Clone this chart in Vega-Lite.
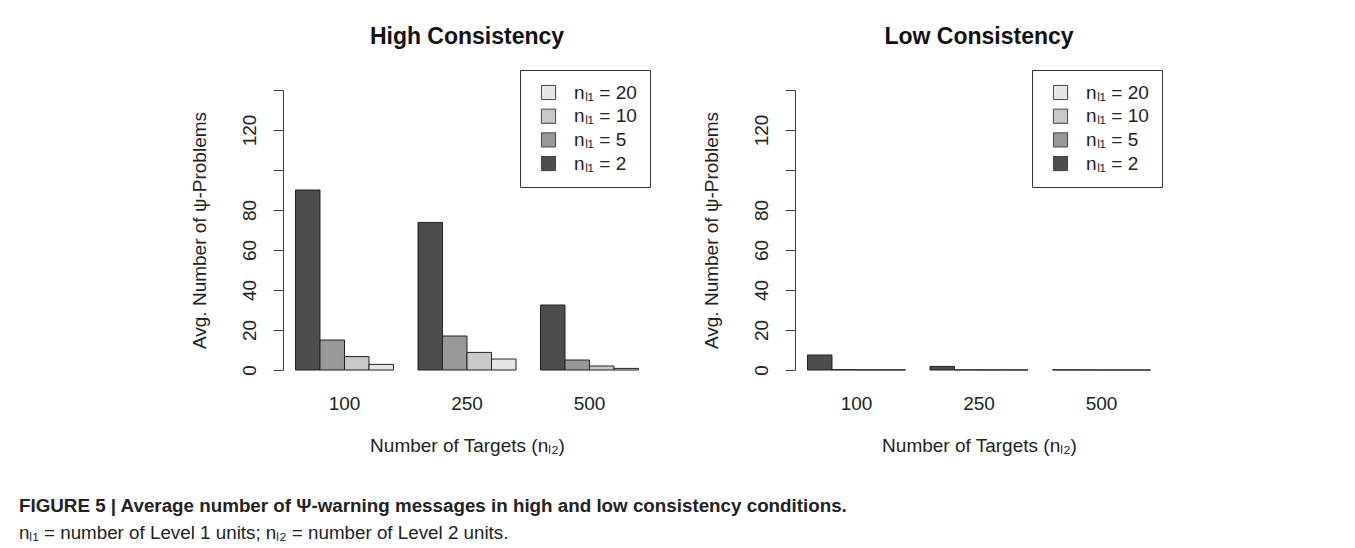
{
  "$schema": "https://vega.github.io/schema/vega-lite/v6.json",
  "padding": {"left": 19, "top": 25, "right": 0, "bottom": 0},
  "background": "white",
  "config": {
    "font": "Liberation Sans",
    "view": {"stroke": null},
    "axis": {"labelColor": "#222", "titleColor": "#222", "domainColor": "#444", "tickColor": "#444", "grid": false}
  },
  "title": {
    "text": "FIGURE 5 | Average number of Ψ-warning messages in high and low consistency conditions.",
    "subtitle": "nₗ₁ = number of Level 1 units; nₗ₂ = number of Level 2 units.",
    "orient": "bottom",
    "anchor": "start",
    "frame": "bounds",
    "dx": -171,
    "offset": 42,
    "fontSize": 18.8,
    "fontWeight": "bold",
    "color": "#222",
    "subtitleFontSize": 18.8,
    "subtitleFontWeight": "normal",
    "subtitleColor": "#222",
    "subtitlePadding": 8
  },
  "data": {
    "values": [
      {"panel": "High", "targets": "100", "n": "2", "value": 90},
      {"panel": "High", "targets": "100", "n": "5", "value": 15},
      {"panel": "High", "targets": "100", "n": "10", "value": 6.7},
      {"panel": "High", "targets": "100", "n": "20", "value": 2.8},
      {"panel": "High", "targets": "250", "n": "2", "value": 73.8},
      {"panel": "High", "targets": "250", "n": "5", "value": 17},
      {"panel": "High", "targets": "250", "n": "10", "value": 8.8},
      {"panel": "High", "targets": "250", "n": "20", "value": 5.5},
      {"panel": "High", "targets": "500", "n": "2", "value": 32.5},
      {"panel": "High", "targets": "500", "n": "5", "value": 5},
      {"panel": "High", "targets": "500", "n": "10", "value": 2},
      {"panel": "High", "targets": "500", "n": "20", "value": 0.8},
      {"panel": "Low", "targets": "100", "n": "2", "value": 7.5},
      {"panel": "Low", "targets": "100", "n": "5", "value": 0.2},
      {"panel": "Low", "targets": "100", "n": "10", "value": 0.1},
      {"panel": "Low", "targets": "100", "n": "20", "value": 0.1},
      {"panel": "Low", "targets": "250", "n": "2", "value": 1.8},
      {"panel": "Low", "targets": "250", "n": "5", "value": 0.1},
      {"panel": "Low", "targets": "250", "n": "10", "value": 0.05},
      {"panel": "Low", "targets": "250", "n": "20", "value": 0.05},
      {"panel": "Low", "targets": "500", "n": "2", "value": 0.1},
      {"panel": "Low", "targets": "500", "n": "5", "value": 0.05},
      {"panel": "Low", "targets": "500", "n": "10", "value": 0.02},
      {"panel": "Low", "targets": "500", "n": "20", "value": 0.02}
    ]
  },
  "spacing": 51,
  "resolve": {"scale": {"color": "independent", "x": "independent", "y": "independent", "xOffset": "independent"}, "legend": {"color": "independent"}},
  "hconcat": [
    {
      "title": {"text": "High Consistency", "fontSize": 23, "fontWeight": "bold", "frame": "group", "anchor": "middle", "offset": 21, "color": "#111"},
      "width": 368,
      "height": 280,
      "transform": [{"filter": "datum.panel == 'High'"}],
      "mark": {"type": "bar", "stroke": "#222", "strokeWidth": 1},
      "encoding": {
        "x": {"field": "targets", "type": "ordinal", "sort": ["100", "250", "500"],
          "scale": {"paddingInner": 0.2, "paddingOuter": 0.102},
          "axis": {"title": "Number of Targets (nₗ₂)", "labelAngle": 0, "ticks": false, "domain": false, "labelPadding": 24, "labelFontSize": 19, "titleFontSize": 19, "titleFontWeight": "normal", "titleY": 75, "titleBaseline": "middle"}},
        "xOffset": {"field": "n", "type": "nominal", "scale": {"domain": ["2", "5", "10", "20"], "paddingInner": 0, "paddingOuter": 0}},
        "y": {"field": "value", "type": "quantitative", "scale": {"domain": [0, 140], "nice": false},
          "axis": {"values": [0, 20, 40, 60, 80, 100, 120, 140], "labelExpr": "datum.value == 100 || datum.value == 140 ? '' : datum.label", "tickSize": 10, "labelAngle": 270, "labelAlign": "center", "labelBaseline": "middle", "labelPadding": 24, "labelFontSize": 19, "labelOverlap": false, "labelFlush": false, "title": "Avg. Number of ψ-Problems", "titleFontSize": 19, "titleFontWeight": "normal", "titleX": -84, "titleY": 140, "titleAngle": 270, "titleBaseline": "middle", "titleAlign": "center"}},
        "color": {"field": "n", "type": "nominal", "scale": {"domain": ["20", "10", "5", "2"], "range": ["#E6E6E6", "#C8C8C8", "#989898", "#4D4D4D"]},
          "legend": {"title": null, "orient": "none", "legendX": 237, "legendY": -20, "labelExpr": "'nₗ₁ = ' + datum.label", "strokeColor": "#333", "fillColor": "white", "padding": 13, "symbolType": "square", "symbolSize": 200, "symbolStrokeColor": "#444", "symbolStrokeWidth": 1, "symbolOffset": 6, "labelFontSize": 19, "labelColor": "#222", "rowPadding": 3.7, "labelOffset": 16}}
      }
    },
    {
      "title": {"text": "Low Consistency", "fontSize": 23, "fontWeight": "bold", "frame": "group", "anchor": "middle", "offset": 21, "color": "#111"},
      "width": 368,
      "height": 280,
      "transform": [{"filter": "datum.panel == 'Low'"}],
      "mark": {"type": "bar", "stroke": "#222", "strokeWidth": 1},
      "encoding": {
        "x": {"field": "targets", "type": "ordinal", "sort": ["100", "250", "500"],
          "scale": {"paddingInner": 0.2, "paddingOuter": 0.102},
          "axis": {"title": "Number of Targets (nₗ₂)", "labelAngle": 0, "ticks": false, "domain": false, "labelPadding": 24, "labelFontSize": 19, "titleFontSize": 19, "titleFontWeight": "normal", "titleY": 75, "titleBaseline": "middle"}},
        "xOffset": {"field": "n", "type": "nominal", "scale": {"domain": ["2", "5", "10", "20"], "paddingInner": 0, "paddingOuter": 0}},
        "y": {"field": "value", "type": "quantitative", "scale": {"domain": [0, 140], "nice": false},
          "axis": {"values": [0, 20, 40, 60, 80, 100, 120, 140], "labelExpr": "datum.value == 100 || datum.value == 140 ? '' : datum.label", "tickSize": 10, "labelAngle": 270, "labelAlign": "center", "labelBaseline": "middle", "labelPadding": 24, "labelFontSize": 19, "labelOverlap": false, "labelFlush": false, "title": "Avg. Number of ψ-Problems", "titleFontSize": 19, "titleFontWeight": "normal", "titleX": -84, "titleY": 140, "titleAngle": 270, "titleBaseline": "middle", "titleAlign": "center"}},
        "color": {"field": "n", "type": "nominal", "scale": {"domain": ["20", "10", "5", "2"], "range": ["#E6E6E6", "#C8C8C8", "#989898", "#4D4D4D"]},
          "legend": {"title": null, "orient": "none", "legendX": 237, "legendY": -20, "labelExpr": "'nₗ₁ = ' + datum.label", "strokeColor": "#333", "fillColor": "white", "padding": 13, "symbolType": "square", "symbolSize": 200, "symbolStrokeColor": "#444", "symbolStrokeWidth": 1, "symbolOffset": 6, "labelFontSize": 19, "labelColor": "#222", "rowPadding": 3.7, "labelOffset": 16}}
      }
    }
  ]
}
